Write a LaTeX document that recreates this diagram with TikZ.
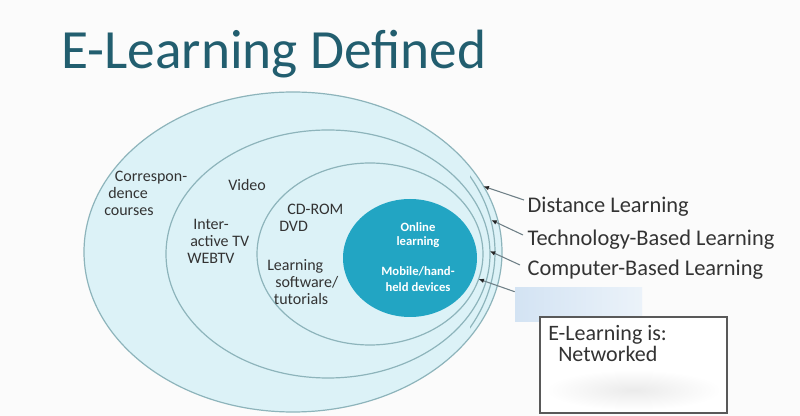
\documentclass[tikz,border=0pt]{standalone}
\usepackage{fontspec}
\setmainfont{Carlito}
\usetikzlibrary{shapes.geometric,arrows.meta,positioning}
\definecolor{ringfill}{HTML}{DCF2F7}
\definecolor{ringline}{HTML}{8DB4BB}
\definecolor{corefill}{HTML}{22A5C3}
\definecolor{titleteal}{HTML}{225E6F}
\definecolor{labelgray}{HTML}{333333}
\definecolor{pointergray}{HTML}{6E7F86}
\definecolor{blurblue}{HTML}{D3E3F3}
\newcommand\pxu{0.75pt}
\tikzset{
  ring/.style={ellipse,draw=ringline,fill=ringfill,line width=0.9pt,inner sep=0pt,outer sep=0pt},
  lbl/.style={anchor=north west,inner sep=0pt,align=left,text=labelgray,font=\fontsize{12}{12.75}\selectfont},
  side/.style={anchor=west,inner sep=1pt,text=labelgray,font=\fontsize{16.8}{19}\selectfont},
  corelbl/.style={inner sep=0pt,align=center,text=white,font=\bfseries\fontsize{9.5}{10.5}\selectfont},
  pointer/.style={draw=pointergray,line width=0.8pt,-{Latex[length=4pt,width=3.5pt,color=black!85]}}
}
\begin{document}
\begin{tikzpicture}[x=0.75pt,y=-0.75pt]
        \fill[white!97!gray] (0,0) rectangle (800,416);
        \useasboundingbox (0,0) rectangle (800,416);
        %% title
        \node[anchor=base west,inner sep=0pt,text=titleteal,font=\fontsize{41.5}{41}\selectfont] (title) at (61,69) {E-Learning Defined};
        %% rings
        \node[ring,minimum width=418*\pxu,minimum height=320*\pxu] (distance) at (293,252) {};
        % second line on the right side only
        \begin{scope}
          \clip (470,170) rectangle (520,340);
          \node[ellipse,draw=ringline,line width=0.9pt,inner sep=0pt,minimum width=410*\pxu,minimum height=316*\pxu] (distance2) at (290,252) {};
        \end{scope}
        \node[ring,minimum width=324*\pxu,minimum height=248*\pxu] (techbased) at (328,254) {};
        \node[ring,minimum width=226*\pxu,minimum height=182*\pxu] (compbased) at (370,254) {};
        \node[ellipse,fill=corefill,inner sep=0pt,minimum width=134*\pxu,minimum height=118*\pxu] (online) at (410,258) {};
        %% ring texts
        \node[lbl] (corr) at (104,171) {\hspace*{8pt}Correspon-\\\hspace*{3pt}dence\\courses};
        \node[lbl] (video) at (228,179) {Video};
        \node[lbl] (itv) at (187,219) {\hspace*{4.5pt}Inter-\\\hspace*{2.25pt}active TV\\WEBTV};
        \node[lbl] (cdrom) at (279,204) {\hspace*{6pt}CD-ROM\\DVD};
        \node[lbl] (lsw) at (267,259) {Learning\\\hspace*{6pt}software/\\\hspace*{5pt}tutorials};
        \node[corelbl] (olearn) at (418,235) {Online\\learning};
        \node[corelbl,font=\bfseries\fontsize{9.5}{12.5}\selectfont] (mobile) at (418,279) {Mobile/hand-\\held devices};
        %% side labels
        \node[side] (dl) at (526,207) {Distance Learning};
        \node[side] (tl) at (526,240) {Technology-Based Learning};
        \node[side] (cl) at (526,270) {Computer-Based Learning};
        \node[inner sep=0pt,minimum width=127*\pxu,minimum height=34*\pxu,left color=blurblue,right color=blurblue!45!white] (blur) at (578.5,305) {};
        %% pointers
        \draw[pointer] ([shift={(-2,-7)}]dl.west) -- (distance.19);
        \draw[pointer] ([shift={(-3,-5)}]tl.west) -- (distance2.9);
        \draw[pointer] ([shift={(-6,-5)}]cl.west) -- (techbased.1);
        \draw[pointer] ([shift={(0,4)}]blur.north west) -- (compbased.347);
        %% box
        \node[draw=gray!70!black,line width=0.9pt,fill=white,inner sep=0pt,minimum width=187*\pxu,minimum height=96*\pxu] (netbox) at (633.5,365) {};
        \fill[inner color=gray!16,outer color=white] (546,370) rectangle (721,410);
        \node[anchor=north west,inner sep=0pt,align=left,text=labelgray,font=\fontsize{16.5}{15.75}\selectfont] (istext) at (548,325) {E-Learning is:\\\hspace*{7.5pt}Networked};
    \end{tikzpicture}
\end{document}
